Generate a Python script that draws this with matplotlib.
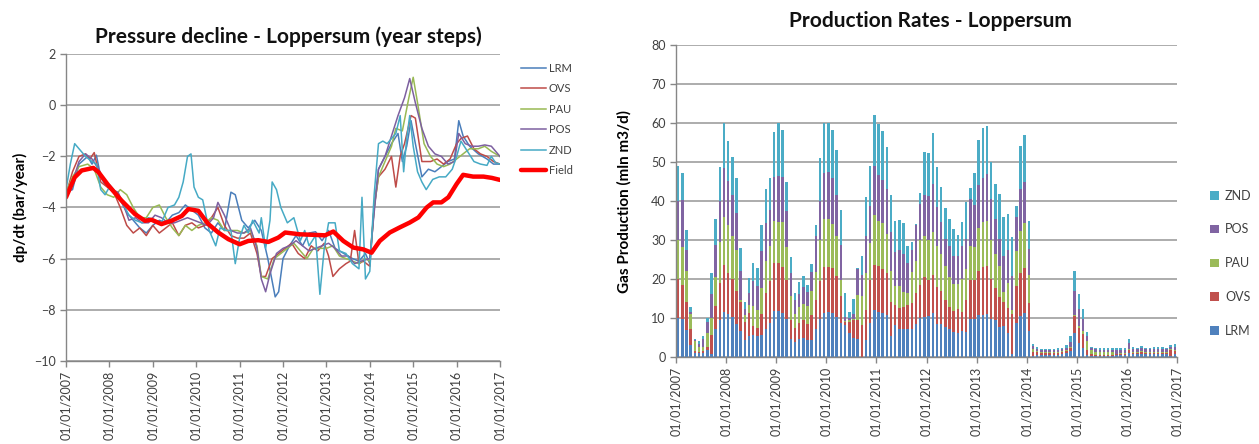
import matplotlib
matplotlib.use('Agg')
import matplotlib.pyplot as plt

plt.rcParams['font.family'] = ['Lato', 'DejaVu Sans']

# ---- pressure decline per well cluster (bar/year), x in decimal years ----
lrm_t = [2007.0, 2007.15, 2007.3, 2007.5, 2007.6, 2007.7, 2007.8, 2007.9, 2008.0, 2008.1, 2008.25, 2008.4,
         2008.55, 2008.7, 2008.85, 2009.0, 2009.15, 2009.3, 2009.45, 2009.6, 2009.75, 2009.9, 2010.05, 2010.2,
         2010.35, 2010.5, 2010.65, 2010.8, 2010.9, 2011.05, 2011.2, 2011.35, 2011.5, 2011.65, 2011.82, 2011.9,
         2012.0, 2012.15, 2012.3, 2012.45, 2012.6, 2012.75, 2012.9, 2013.05, 2013.2, 2013.4, 2013.6, 2013.75,
         2013.9, 2014.0, 2014.1, 2014.2, 2014.35, 2014.5, 2014.65, 2014.75, 2014.85, 2014.95, 2015.05, 2015.2,
         2015.35, 2015.5, 2015.65, 2015.8, 2015.95, 2016.05, 2016.15, 2016.3, 2016.5, 2016.7, 2016.85, 2017.0]
lrm_v = [-3.4, -3.3, -2.3, -2.0, -2.3, -1.95, -2.8, -3.1, -3.1, -3.3, -3.7, -4.2,
         -4.5, -4.8, -5.0, -4.7, -4.5, -4.6, -4.3, -4.2, -3.9, -4.1, -4.3, -4.8,
         -5.0, -4.6, -4.9, -3.4, -3.5, -4.5, -4.8, -4.5, -4.9, -6.0, -7.5, -7.3,
         -6.0, -5.5, -5.1, -5.5, -5.0, -4.95, -5.3, -4.9, -5.6, -5.8, -6.0, -6.1,
         -5.8, -6.2, -4.0, -2.5, -2.0, -1.5, -1.1, -2.2, -1.6, -0.6, -1.5, -2.8,
         -2.5, -2.6, -2.4, -2.2, -2.1, -0.6, -1.2, -1.6, -1.9, -2.1, -2.3, -2.3]

ovs_t = [2007.0, 2007.15, 2007.3, 2007.45, 2007.55, 2007.65, 2007.8, 2007.95, 2008.1, 2008.25, 2008.4, 2008.55,
         2008.7, 2008.85, 2009.0, 2009.15, 2009.3, 2009.45, 2009.6, 2009.75, 2009.9, 2010.05, 2010.2, 2010.35,
         2010.5, 2010.65, 2010.8, 2010.95, 2011.1, 2011.25, 2011.4, 2011.5, 2011.6, 2011.75, 2011.9, 2012.05,
         2012.2, 2012.35, 2012.5, 2012.65, 2012.8, 2012.95, 2013.05, 2013.15, 2013.3, 2013.45, 2013.55, 2013.65,
         2013.75, 2013.85, 2014.0, 2014.1, 2014.2, 2014.35, 2014.5, 2014.6, 2014.7, 2014.8, 2014.95, 2015.05,
         2015.2, 2015.4, 2015.55, 2015.7, 2015.85, 2016.0, 2016.1, 2016.25, 2016.4, 2016.55, 2016.7, 2016.85, 2017.0]
ovs_v = [-3.5, -2.6, -2.0, -1.9, -2.1, -1.85, -3.0, -3.2, -3.4, -4.0, -4.7, -5.0,
         -4.8, -5.1, -4.7, -5.0, -4.8, -4.6, -5.1, -4.7, -4.6, -4.8, -4.7, -4.4,
         -4.0, -4.7, -5.1, -5.2, -5.2, -5.0, -5.8, -6.7, -6.7, -6.0, -5.8, -5.6,
         -5.4, -5.8, -6.0, -5.5, -5.7, -5.4, -5.9, -6.7, -6.4, -6.2, -6.1, -4.9,
         -6.2, -6.1, -6.3, -4.0, -2.8, -2.5, -2.0, -3.2, -2.0, -1.5, -0.4, -0.5,
         -2.2, -2.2, -2.1, -2.3, -2.1, -1.5, -1.3, -1.2, -1.7, -1.9, -2.0, -2.2, -2.3]

pau_t = [2007.0, 2007.15, 2007.3, 2007.5, 2007.65, 2007.8, 2007.95, 2008.1, 2008.25, 2008.4, 2008.55, 2008.7,
         2008.85, 2009.0, 2009.15, 2009.3, 2009.45, 2009.6, 2009.75, 2009.9, 2010.05, 2010.2, 2010.35, 2010.5,
         2010.65, 2010.8, 2010.95, 2011.1, 2011.25, 2011.4, 2011.5, 2011.65, 2011.8, 2011.95, 2012.1, 2012.25,
         2012.4, 2012.55, 2012.7, 2012.85, 2013.0, 2013.15, 2013.3, 2013.45, 2013.6, 2013.75, 2013.9, 2014.0,
         2014.1, 2014.2, 2014.35, 2014.5, 2014.6, 2014.75, 2014.9, 2015.0, 2015.1, 2015.25, 2015.4, 2015.55,
         2015.7, 2015.85, 2016.0, 2016.15, 2016.3, 2016.5, 2016.65, 2016.8, 2017.0]
pau_v = [-3.4, -2.8, -2.4, -2.3, -2.5, -3.2, -3.5, -3.6, -3.3, -3.5, -4.0, -4.4,
         -4.4, -4.0, -3.9, -4.4, -4.8, -5.1, -4.7, -4.9, -4.7, -4.6, -4.4, -4.5,
         -4.9, -4.9, -4.9, -5.0, -4.9, -5.5, -6.7, -6.8, -6.0, -5.8, -5.6, -5.4,
         -5.7, -6.0, -5.6, -5.6, -5.6, -5.5, -5.9, -6.0, -6.1, -6.2, -6.0, -6.1,
         -4.0, -2.8, -2.2, -1.6, -0.9, -1.0, 0.3, 1.1, 0.1, -1.5, -2.0, -2.3,
         -2.4, -2.3, -2.1, -1.9, -1.7, -1.7, -1.6, -1.8, -2.0]

pos_t = [2007.0, 2007.15, 2007.3, 2007.45, 2007.6, 2007.75, 2007.9, 2008.05, 2008.2, 2008.35, 2008.45, 2008.6,
         2008.75, 2008.9, 2009.05, 2009.2, 2009.35, 2009.5, 2009.65, 2009.8, 2009.95, 2010.1, 2010.25, 2010.4,
         2010.5, 2010.65, 2010.8, 2010.95, 2011.1, 2011.25, 2011.4, 2011.5, 2011.6, 2011.7, 2011.85, 2012.0,
         2012.15, 2012.3, 2012.45, 2012.6, 2012.75, 2012.9, 2013.05, 2013.2, 2013.35, 2013.5, 2013.65, 2013.8,
         2014.0, 2014.1, 2014.2, 2014.35, 2014.5, 2014.65, 2014.8, 2014.92, 2015.05, 2015.2, 2015.35, 2015.5,
         2015.65, 2015.8, 2015.95, 2016.05, 2016.2, 2016.35, 2016.5, 2016.65, 2016.8, 2017.0]
pos_v = [-3.5, -3.0, -2.2, -1.9, -2.1, -2.5, -3.0, -3.3, -3.4, -4.0, -4.5, -4.4,
         -4.6, -4.6, -4.3, -4.4, -4.6, -4.6, -4.5, -4.4, -4.5, -4.6, -4.7, -4.4,
         -3.8, -4.3, -4.9, -5.0, -5.0, -4.8, -5.6, -6.8, -7.3, -6.6, -5.8, -5.6,
         -5.5, -5.3, -5.5, -5.7, -5.6, -5.5, -5.4, -5.6, -5.9, -5.9, -6.2, -6.1,
         -6.0, -4.2, -2.5, -2.0, -1.2, -0.4, 0.3, 1.05, 0.1, -0.9, -1.6, -1.9,
         -2.0, -2.3, -2.2, -1.1, -1.5, -1.6, -1.6, -1.55, -1.6, -2.0]

znd_t = [2007.0, 2007.1, 2007.2, 2007.3, 2007.45, 2007.6, 2007.7, 2007.8, 2007.9, 2008.0, 2008.15, 2008.3,
         2008.45, 2008.6, 2008.75, 2008.9, 2009.05, 2009.2, 2009.35, 2009.5, 2009.6, 2009.7, 2009.8, 2009.88,
         2009.95, 2010.05, 2010.15, 2010.3, 2010.45, 2010.55, 2010.7, 2010.8, 2010.9, 2011.0, 2011.1, 2011.2,
         2011.3, 2011.45, 2011.5, 2011.6, 2011.7, 2011.75, 2011.85, 2011.95, 2012.1, 2012.25, 2012.4, 2012.5,
         2012.6, 2012.75, 2012.85, 2012.95, 2013.05, 2013.2, 2013.3, 2013.45, 2013.6, 2013.75, 2013.82, 2013.9,
         2014.0, 2014.1, 2014.2, 2014.3, 2014.4, 2014.5, 2014.6, 2014.7, 2014.78, 2014.85, 2014.92, 2015.0,
         2015.1, 2015.2, 2015.3, 2015.45, 2015.6, 2015.75, 2015.9, 2016.0, 2016.1, 2016.25, 2016.4, 2016.55,
         2016.7, 2016.8, 2016.9, 2017.0]
znd_v = [-3.3, -2.3, -1.5, -1.7, -2.0, -2.2, -2.3, -3.3, -3.5, -3.2, -3.5, -3.8,
         -4.3, -4.5, -4.6, -4.4, -4.5, -4.6, -4.0, -3.9, -3.6, -3.0, -2.0, -1.9,
         -3.2, -3.6, -3.7, -4.9, -5.5, -4.8, -4.9, -4.9, -6.2, -5.2, -4.7, -5.0,
         -4.5, -5.0, -4.4, -5.6, -4.5, -3.0, -3.3, -4.0, -4.6, -4.4, -5.3, -4.9,
         -5.5, -5.1, -7.4, -5.6, -4.6, -4.6, -5.7, -5.8, -6.2, -6.4, -3.6, -6.8,
         -6.5, -3.5, -1.5, -1.4, -1.5, -1.3, -1.1, -0.4, -2.6, -1.3, -0.4, -1.6,
         -2.6, -3.0, -3.3, -2.9, -2.8, -2.8, -2.5, -2.0, -1.4, -1.8, -2.2, -2.3,
         -2.35, -2.0, -2.25, -2.3]

field_t = [2007.0, 2007.2, 2007.36, 2007.63, 2007.75, 2007.98, 2008.28, 2008.59, 2008.82, 2008.97, 2009.2,
           2009.43, 2009.67, 2009.82, 2010.05, 2010.28, 2010.51, 2010.74, 2011.0, 2011.2, 2011.43, 2011.66,
           2011.89, 2012.05, 2012.39, 2012.7, 2012.97, 2013.16, 2013.39, 2013.62, 2013.85, 2014.04, 2014.23,
           2014.46, 2014.69, 2014.92, 2015.12, 2015.31, 2015.46, 2015.65, 2015.81, 2016.0, 2016.15, 2016.38,
           2016.62, 2016.81, 2017.0]
field_v = [-3.6, -2.82, -2.55, -2.45, -2.62, -3.14, -3.73, -4.26, -4.52, -4.48, -4.65,
           -4.52, -4.33, -4.06, -4.13, -4.65, -4.98, -5.24, -5.44, -5.31, -5.28, -5.35,
           -5.18, -4.98, -5.05, -5.07, -5.09, -4.94, -5.31, -5.57, -5.64, -5.77, -5.31,
           -4.98, -4.78, -4.59, -4.39, -4.0, -3.8, -3.8, -3.6, -3.08, -2.72, -2.79,
           -2.79, -2.84, -2.92]

# ---- monthly gas production (mln m3/d), Jan 2007 .. Dec 2016 ----
lrm_prod = [10, 9.7, 6.8, 3, 1, 1, 1, 1.8, 0.8, 7, 9.5, 11.5,
            11, 10.3, 8.5, 6.6, 4.2, 5.3, 5.7, 5.3, 5.7, 7, 8.7, 11.7,
            11.7, 11.3, 9.7, 4.6, 3.8, 4.6, 4.8, 4.2, 4.2, 7, 9.8, 11.3,
            11.5, 11.2, 10.3, 8.7, 8.2, 6, 4.8, 4.6, 0, 4.3, 8.6, 12,
            11.6, 11.3, 10.7, 5.2, 8.2, 7.2, 7.1, 7.2, 7.1, 8.3, 9.9, 10.2,
            10.5, 11.3, 8.5, 8.3, 7.7, 7.1, 6.3, 6.2, 6.5, 6.3, 9.7, 9.7,
            10.7, 10.8, 11, 9.7, 9.4, 7.6, 8, 6, 0.8, 8.6, 10.5, 11.2,
            6.5, 0.3, 0.4, 0.4, 0.4, 0.4, 0.4, 0.5, 0.6, 0.9, 1.5, 6,
            3.5, 2.3, 0.5, 0.3, 0.3, 0.2, 0.2, 0.2, 0.3, 0.4, 0.5, 0.5,
            1.0, 0.6, 0.6, 0.7, 0.6, 0.6, 0.6, 0.6, 0.6, 0.6, 0.3, 0.6]
ovs_prod = [10, 8.8, 7.2, 4, 0.5, 0.3, 0.5, 0.7, 4.7, 6, 9.5, 12,
            10.5, 9.7, 8.5, 7.4, 4.8, 6, 2.2, 2.1, 5.2, 9.4, 10.7, 12.4,
            12.4, 11.7, 10.1, 4.9, 3.6, 4.1, 4.6, 4.3, 6.6, 7.5, 9.7, 11.7,
            11.5, 11.6, 10.5, 6.8, 0.8, 3, 4.7, 4.9, 8.1, 7.7, 11.1, 11.6,
            11.6, 11.3, 10.8, 8.8, 5.2, 5.3, 5.7, 6.2, 6.6, 8.1, 8.5, 10.4,
            9.1, 9.7, 9.5, 8.7, 6.8, 5.7, 5.5, 6.1, 5.1, 8.2, 10, 10.1,
            11.3, 12.2, 12.2, 10.3, 8.2, 7.8, 6, 6.6, 10.2, 9.6, 11, 11.6,
            7.3, 1.0, 0.7, 0.5, 0.5, 0.5, 0.5, 0.5, 0.6, 0.5, 0.7, 4.5,
            4, 3.5, 1.3, 0.4, 0.2, 0.2, 0.2, 0.3, 0.2, 0.2, 0.3, 0.3,
            0.8, 0.4, 0.4, 0.5, 0.4, 0.4, 0.4, 0.4, 0.4, 0.4, 1.5, 0.8]
pau_prod = [10, 9.8, 8, 4, 2.5, 1.2, 1, 3.5, 4.5, 7.5, 10.5, 12.5,
            12.3, 11, 10.5, 0.6, 1.8, 1.9, 5.1, 4.7, 6.8, 8.1, 9, 10.7,
            10.5, 11.6, 8.4, 6, 3.6, 4.1, 4.1, 4.5, 6.2, 7.3, 10.5, 12.3,
            12.3, 11.2, 10.2, 4.2, 0.3, 0.5, 0.3, 6.3, 7.5, 9.4, 9.6, 12.7,
            11.8, 11.7, 10, 8, 4.8, 5.7, 3.7, 3, 8, 8.3, 11.6, 10.4,
            10.3, 11, 10.5, 9.4, 8.7, 7.6, 7, 6.5, 8.4, 8.1, 8.8, 8.4,
            11, 11.5, 11.8, 10, 8.7, 8, 2.7, 6.4, 1, 8.9, 10.7, 11.5,
            7.2, 0.7, 0.3, 0.2, 0.2, 0.2, 0.2, 0.2, 0.2, 0.2, 0.3, 0.3,
            0.5, 0.7, 2.2, 1.0, 0.8, 0.8, 0.8, 0.8, 0.7, 0.2, 0.2, 0.2,
            0.3, 0.2, 0.2, 0.2, 0.2, 0.2, 0.2, 0.2, 0.2, 0.2, 0.2, 0.2]
pos_prod = [10, 11.9, 5.5, 0.5, 0.2, 0.7, 2, 3, 6, 8.3, 10.5, 12.5,
            11.4, 10.5, 9.5, 7.5, 1.5, 3.2, 6.4, 6, 9.4, 9.9, 9.4, 11.4,
            11.9, 11.6, 9.3, 6, 3.5, 3.2, 4.3, 3.5, 4.8, 9.2, 10, 12,
            12.2, 11.8, 10.5, 9.1, 0.9, 0.5, 1.2, 6.7, 5.4, 9.6, 9.3, 12.7,
            11.8, 11.2, 11.5, 10, 8.6, 9.1, 10, 7.8, 5.8, 9.1, 9.2, 10.5,
            11.5, 12.5, 9.9, 8.2, 7, 8.1, 7, 7, 8.5, 7.7, 12, 10.8,
            11, 11.5, 12, 10.4, 9, 6.9, 9.1, 8.5, 8.8, 8.9, 11, 10.7,
            6.8, 0.8, 0.6, 0.5, 0.5, 0.5, 0.5, 0.5, 0.5, 0.7, 1.3, 6.1,
            4.2, 3.3, 1.3, 0.6, 0.6, 0.6, 0.6, 0.5, 0.6, 0.8, 0.8, 0.8,
            1.5, 0.8, 0.7, 0.8, 0.7, 0.7, 0.8, 0.8, 0.8, 0.7, 0.4, 1.0]
znd_prod = [9, 7.1, 5, 1.2, 0.3, 0.8, 0.8, 1, 5.5, 6.5, 8.8, 11.5,
            10.3, 9.7, 9, 5.8, 1.7, 3.9, 4.6, 4.7, 6.8, 8.7, 8.2, 11.5,
            13.5, 12, 7.3, 4.1, 1.9, 3.2, 2.9, 2, 2, 2.8, 11, 12.7,
            12.5, 12.5, 11.7, 8.8, 6.2, 1.5, 3.7, 0.3, 4.9, 10, 10.3, 13.2,
            12.9, 12.5, 10.8, 9.6, 8.2, 7.9, 7.8, 4.3, 1.9, 0.3, 2.8, 11.1,
            11, 12.9, 10.3, 8.9, 8.1, 6.9, 7, 5.4, 6.2, 9.4, 2.8, 8.2,
            11.6, 12.7, 12.3, 9.6, 9.2, 11.5, 10, 9.3, 10, 2.8, 11, 12,
            7.2, 0.4, 0.5, 0.4, 0.5, 0.5, 0.5, 0.5, 0.4, 0.7, 1.4, 5,
            3.8, 2.4, 1.0, 0.3, 0.3, 0.4, 0.4, 0.4, 0.4, 0.6, 0.4, 0.4,
            0.9, 0.6, 0.4, 0.5, 0.4, 0.4, 0.4, 0.4, 0.4, 0.4, 0.5, 0.7]

years = list(range(2007, 2018))
date_labels = ['01/01/%d' % y for y in years]

c_lrm, c_ovs, c_pau, c_pos, c_znd = '#4A7EBB', '#BE4B48', '#98B954', '#7D60A0', '#46AAC5'
grid_c = '#A6A6A6'
axis_c = '#868686'
text_c = '#404040'

fig = plt.figure(figsize=(12.59, 4.44), dpi=100)

# ---------------- left: pressure decline ----------------
ax1 = fig.add_axes([66 / 1259, 1 - 360.7 / 444, 434 / 1259, (360.7 - 54.3) / 444])
lw = 1.1
ax1.plot(lrm_t, lrm_v, color=c_lrm, lw=lw, label='LRM')
ax1.plot(ovs_t, ovs_v, color=c_ovs, lw=lw, label='OVS')
ax1.plot(pau_t, pau_v, color=c_pau, lw=lw, label='PAU')
ax1.plot(pos_t, pos_v, color=c_pos, lw=lw, label='POS')
ax1.plot(znd_t, znd_v, color=c_znd, lw=lw, label='ZND')
ax1.plot(field_t, field_v, color='#FF0000', lw=3.2, label='Field', solid_capstyle='round')

ax1.set_xlim(2007, 2017)
ax1.set_ylim(-10, 2)
ax1.set_yticks(range(-10, 3, 2))
ax1.set_xticks(years)
ax1.set_xticklabels(date_labels, rotation=90)
ax1.grid(axis='y', color=grid_c, lw=1.3)
ax1.set_axisbelow(True)
ax1.set_ylabel('dp/dt (bar/year)', fontsize=11, fontweight='bold', labelpad=4)
ax1.legend(loc='upper left', bbox_to_anchor=(1.025, 1.005), frameon=False, fontsize=8,
           handlelength=2.3, handletextpad=0.2, labelspacing=0.85, labelcolor=text_c)

# ---------------- right: production rates ----------------
ax2 = fig.add_axes([676 / 1259, 1 - 356.7 / 444, 501 / 1259, (356.7 - 45.4) / 444])
months = [m + 0.5 for m in range(len(lrm_prod))]
bw = 0.6
bottom = [0.0] * len(months)
for vals, col, name in [(lrm_prod, '#4F81BD', 'LRM'), (ovs_prod, '#C0504D', 'OVS'),
                        (pau_prod, '#9BBB59', 'PAU'), (pos_prod, '#8064A2', 'POS'),
                        (znd_prod, '#4BACC6', 'ZND')]:
    ax2.bar(months, vals, bw, bottom=bottom, color=col, label=name, linewidth=0)
    bottom = [b + v for b, v in zip(bottom, vals)]

ax2.set_xlim(0, 120)
ax2.set_ylim(0, 80)
ax2.set_yticks(range(0, 81, 10))
ax2.set_xticks(range(0, 121, 12))
ax2.set_xticklabels(date_labels, rotation=90)
ax2.grid(axis='y', color=grid_c, lw=1.3)
ax2.set_axisbelow(True)
ax2.set_ylabel('Gas Production (mln m3/d)', fontsize=11, fontweight='bold', labelpad=14)
h, l = ax2.get_legend_handles_labels()
ax2.legend(h[::-1], l[::-1], loc='center left', bbox_to_anchor=(1.066, 0.30), frameon=False,
           fontsize=9, handlelength=0.7, handleheight=0.7, handletextpad=0.5, labelspacing=1.75,
           borderpad=0, borderaxespad=0, labelcolor=text_c)

for ax in (ax1, ax2):
    for s in ('top', 'right'):
        ax.spines[s].set_visible(False)
    for s in ('left', 'bottom'):
        ax.spines[s].set_color(axis_c)
        ax.spines[s].set_linewidth(1.0)
    ax.tick_params(axis='both', colors=axis_c, labelcolor=text_c, labelsize=9, length=4, width=1)

fig.text(0.229, 1 - 37 / 444, 'Pressure decline - Loppersum (year steps)', ha='center', va='center',
         fontsize=15, fontweight='bold', color='#111111')
fig.text(0.739, 1 - 21 / 444, 'Production Rates - Loppersum', ha='center', va='center',
         fontsize=15, fontweight='bold', color='#111111')

fig.savefig('out.png', dpi=100)
